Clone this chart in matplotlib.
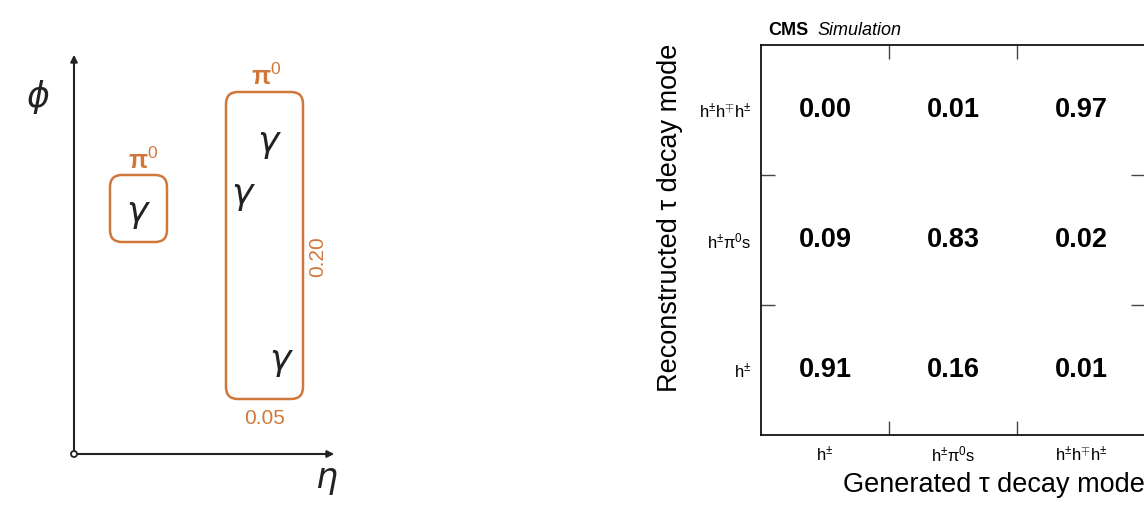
import matplotlib
matplotlib.use("Agg")
import matplotlib.pyplot as plt
from matplotlib.patches import FancyBboxPatch, Circle
import numpy as np

plt.rcParams['font.family'] = ['Liberation Sans', 'DejaVu Sans']
plt.rcParams['mathtext.fontset'] = 'custom'
plt.rcParams['mathtext.rm'] = 'Liberation Sans'
plt.rcParams['mathtext.it'] = 'Liberation Sans:italic'
plt.rcParams['mathtext.bf'] = 'Liberation Sans:bold'

# ---- data ----
gen_labels = ['h$^{\\pm}$', 'h$^{\\pm}$π$^{0}$s', 'h$^{\\pm}$h$^{\\mp}$h$^{\\pm}$']
reco_labels = ['h$^{\\pm}$', 'h$^{\\pm}$π$^{0}$s', 'h$^{\\pm}$h$^{\\mp}$h$^{\\pm}$']
# rows: reconstructed (bottom->top), cols: generated
row_h = [0.91, 0.16, 0.01]
row_hpi0 = [0.09, 0.83, 0.02]
row_3h = [0.00, 0.01, 0.97]

W, H = 1144, 512
fig = plt.figure(figsize=(W / 100, H / 100), dpi=100)

# ---- left schematic (pixel coordinates) ----
axl = fig.add_axes([0, 0, 1, 1])
axl.set_xlim(0, W)
axl.set_ylim(H, 0)
axl.axis('off')
orange = '#d0783a'
ox, oy = 74, 454
axl.annotate('', xy=(ox, 52), xytext=(ox, oy), arrowprops=dict(arrowstyle='-|>', lw=1.5, color='#222222', mutation_scale=10))
axl.annotate('', xy=(337, oy), xytext=(ox, oy), arrowprops=dict(arrowstyle='-|>', lw=1.5, color='#222222', mutation_scale=10))
axl.add_patch(Circle((ox, oy), 3, facecolor='white', edgecolor='#222222', lw=1.3, zorder=5))
axl.text(37, 97, 'ϕ', fontsize=25, style='italic', ha='center', va='center', family='DejaVu Sans', color='#222222')
axl.text(326, 478, 'η', fontsize=25, style='italic', ha='center', va='center', family='DejaVu Sans', color='#222222')

axl.add_patch(FancyBboxPatch((110, 175), 57, 67, boxstyle='round,pad=0,rounding_size=12', fill=False, ec=orange, lw=1.8))
axl.add_patch(FancyBboxPatch((226, 92), 77, 307, boxstyle='round,pad=0,rounding_size=12', fill=False, ec=orange, lw=1.8))
axl.text(143, 161, 'π$^{0}$', fontsize=18, color=orange, ha='center', va='center', fontweight='bold')
axl.text(266, 77, 'π$^{0}$', fontsize=18, color=orange, ha='center', va='center', fontweight='bold')
for (x, y) in [(137, 212), (268, 142), (242, 194), (280, 360)]:
    axl.text(x, y, 'γ', fontsize=26, style='italic', ha='center', va='center', family='DejaVu Sans', color='#222222')
axl.text(318, 257, '0.20', fontsize=15, color=orange, rotation=90, ha='center', va='center')
axl.text(265, 418, '0.05', fontsize=15, color=orange, ha='center', va='center')

# ---- right matrix ----
x0, x1, ytop, ybot = 761, 1145, 45, 435
ax = fig.add_axes([x0 / W, (H - ybot) / H, (x1 - x0) / W, (ybot - ytop) / H])
ax.set_xlim(0, 3)
ax.set_ylim(0, 3)
mat = np.array([row_h, row_hpi0, row_3h])
for r in range(3):
    for c in range(3):
        ax.text(c + 0.5, r + 0.5, f'{mat[r, c]:.2f}', ha='center', va='center', fontsize=19.5, fontweight='bold')
ax.set_xticks([1, 2])
ax.set_yticks([1, 2])
ax.set_xticklabels([])
ax.set_yticklabels([])
ax.tick_params(which='major', direction='in', length=10, width=1, top=True, right=True, color='#444444')
ax.set_xticks([0.5, 1.5, 2.5], minor=True)
ax.set_yticks([0.5, 1.5, 2.5], minor=True)
ax.set_xticklabels(gen_labels, minor=True, fontsize=12)
ax.set_yticklabels(reco_labels, minor=True, fontsize=12)
ax.tick_params(which='minor', length=0, pad=7)
for s in ax.spines.values():
    s.set_linewidth(1.2)
ax.set_xlabel('Generated τ decay mode', fontsize=19.5, ha='right', va='top')
ax.xaxis.set_label_coords(1.0, -0.095)
ax.set_ylabel('Reconstructed τ decay mode', fontsize=19.5)
ax.yaxis.set_label_coords(-0.203, 0.556)
ax.text(0.018, 1.015, 'CMS', transform=ax.transAxes, fontsize=13, fontweight='bold', ha='left', va='bottom')
ax.text(0.146, 1.015, 'Simulation', transform=ax.transAxes, fontsize=13, style='italic', ha='left', va='bottom')

fig.savefig('out.png', dpi=100)
